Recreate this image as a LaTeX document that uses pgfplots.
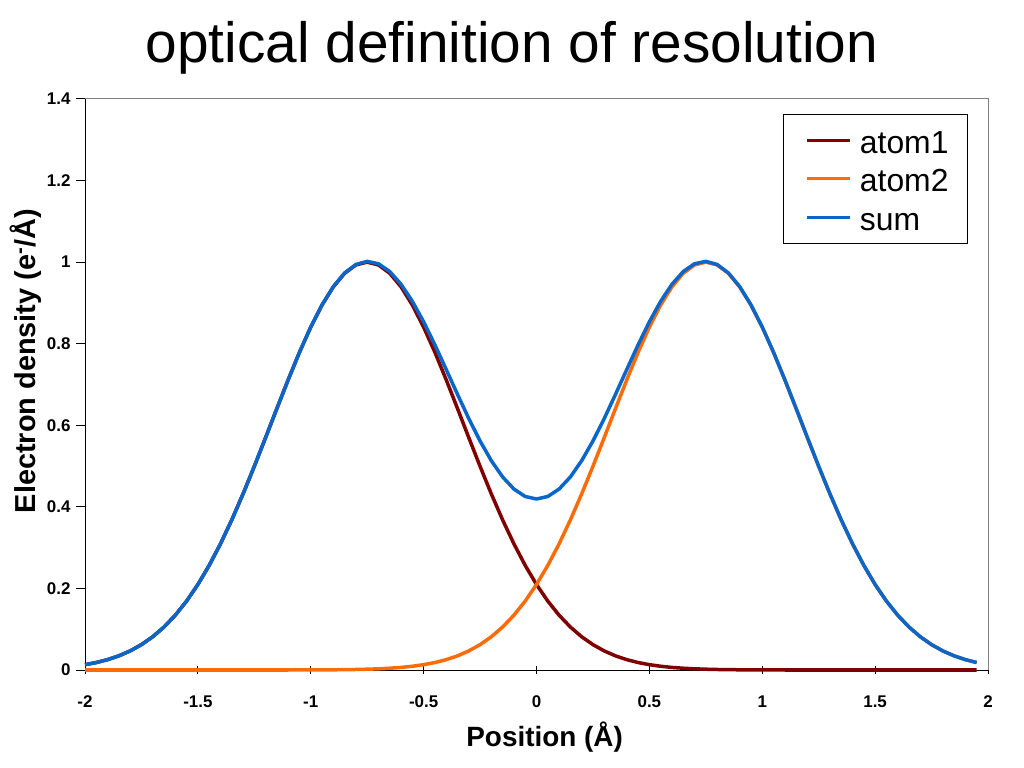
\documentclass[border=0pt]{standalone}
\usepackage{fontspec}
\setmainfont{Liberation Sans}
\usepackage{pgfplots}
\pgfplotsset{compat=1.18}
\usepackage{pgfplotstable}
\definecolor{atomA}{RGB}{128,0,0}
\definecolor{atomB}{RGB}{250,108,10}
\definecolor{sumc}{RGB}{10,102,200}
\pgfplotstableread{
x a1 a2 s
-2.00 0.01304 0 0.01304
-1.95 0.01832 0 0.01832
-1.90 0.02537 0 0.02537
-1.85 0.03469 0 0.03469
-1.80 0.04677 0 0.04677
-1.75 0.06218 0 0.06218
-1.70 0.08151 0 0.08151
-1.65 0.10540 0 0.10540
-1.60 0.13441 0 0.13441
-1.55 0.16901 0 0.16901
-1.50 0.20961 0 0.20961
-1.45 0.25638 0 0.25638
-1.40 0.30924 0 0.30924
-1.35 0.36788 0 0.36788
-1.30 0.43159 0 0.43159
-1.25 0.49935 0 0.49935
-1.20 0.56978 0 0.56978
-1.15 0.64118 0 0.64118
-1.10 0.71155 0 0.71155
-1.05 0.77880 0.00012 0.77892
-1.00 0.84064 0.00020 0.84084
-0.95 0.89484 0.00033 0.89517
-0.90 0.93941 0.00052 0.93993
-0.85 0.97260 0.00082 0.97342
-0.80 0.99308 0.00126 0.99434
-0.75 1.00000 0.00193 1.00193
-0.70 0.99308 0.00291 0.99599
-0.65 0.97260 0.00432 0.97692
-0.60 0.93941 0.00633 0.94574
-0.55 0.89484 0.00915 0.90399
-0.50 0.84064 0.01304 0.85368
-0.45 0.77880 0.01832 0.79712
-0.40 0.71155 0.02537 0.73692
-0.35 0.64118 0.03469 0.67587
-0.30 0.56978 0.04677 0.61655
-0.25 0.49935 0.06218 0.56153
-0.20 0.43159 0.08151 0.51310
-0.15 0.36788 0.10540 0.47328
-0.10 0.30924 0.13441 0.44365
-0.05 0.25638 0.16901 0.42539
0.00 0.20961 0.20961 0.41922
0.05 0.16901 0.25638 0.42539
0.10 0.13441 0.30924 0.44365
0.15 0.10540 0.36788 0.47328
0.20 0.08151 0.43159 0.51310
0.25 0.06218 0.49935 0.56153
0.30 0.04677 0.56978 0.61655
0.35 0.03469 0.64118 0.67587
0.40 0.02537 0.71155 0.73692
0.45 0.01832 0.77880 0.79712
0.50 0.01304 0.84064 0.85368
0.55 0.00915 0.89484 0.90399
0.60 0.00633 0.93941 0.94574
0.65 0.00432 0.97260 0.97692
0.70 0.00291 0.99308 0.99599
0.75 0.00193 1.00000 1.00193
0.80 0.00126 0.99308 0.99434
0.85 0.00082 0.97260 0.97342
0.90 0.00052 0.93941 0.93993
0.95 0.00033 0.89484 0.89517
1.00 0.00020 0.84064 0.84084
1.05 0.00012 0.77880 0.77892
1.10 0 0.71155 0.71155
1.15 0 0.64118 0.64118
1.20 0 0.56978 0.56978
1.25 0 0.49935 0.49935
1.30 0 0.43159 0.43159
1.35 0 0.36788 0.36788
1.40 0 0.30924 0.30924
1.45 0 0.25638 0.25638
1.50 0 0.20961 0.20961
1.55 0 0.16901 0.16901
1.60 0 0.13441 0.13441
1.65 0 0.10540 0.10540
1.70 0 0.08151 0.08151
1.75 0 0.06218 0.06218
1.80 0 0.04677 0.04677
1.85 0 0.03469 0.03469
1.90 0 0.02537 0.02537
1.95 0 0.01832 0.01832
}\datatable
\begin{document}
\begin{tikzpicture}
\path[use as bounding box] (0,0) rectangle (1024bp,768bp);
\node[anchor=base, font=\fontsize{57}{60}\selectfont] at (512bp,705bp) {optical definition of resolution};
\begin{axis}[
  at={(85bp,98bp)}, anchor=south west,
  scale only axis, width=903bp, height=571bp,
  xmin=-2, xmax=2, ymin=0, ymax=1.4,
  xtick={-2,-1.5,...,2}, ytick={0,0.2,...,1.4},
  axis x line*=bottom, axis y line*=left,
  axis line style={black, line width=1pt},
  xtick align=center, ytick align=outside,
  major tick length=9bp,
  tick style={black, line width=1pt},
  /pgf/number format/assume math mode=true,
  xticklabel style={font=\bfseries\fontsize{17}{19}\selectfont, yshift=-18bp},
  yticklabel style={font=\bfseries\fontsize{17}{19}\selectfont, xshift=-2bp},
  xlabel={Position (Å)},
  ylabel={Electron density (e\textsuperscript{-}/Å)},
  xlabel style={font=\bfseries\fontsize{28}{30}\selectfont, at={(axis description cs:0.509,-0.117)}, anchor=center},
  ylabel style={font=\bfseries\fontsize{29}{31}\selectfont, at={(axis description cs:-0.066,0.541)}, anchor=center, rotate=0},
  clip=false,
  legend cell align=left,
  legend style={at={(0.773,0.974)}, anchor=north west, draw=black, line width=0.8pt,
    font=\fontsize{32}{36}\selectfont, inner xsep=19bp, inner ysep=10bp, row sep=6.5bp,
    nodes={inner sep=0pt, text height=29bp, text depth=3bp}},
  legend image code/.code={\draw[#1, line width=3bp] (3bp,0bp) -- (46bp,0bp); \path (0bp,0bp) (54bp,0bp);},
]
\draw[gray, line width=1pt] (rel axis cs:0,1) -- (rel axis cs:1,1) -- (rel axis cs:1,0);
\addplot[atomA, line width=3.5bp, line join=round] table[x=x,y=a1] {\datatable};
\addlegendentry{atom1}
\addplot[atomB, line width=3.5bp, line join=round] table[x=x,y=a2] {\datatable};
\addlegendentry{atom2}
\addplot[sumc, line width=3.5bp, line join=round] table[x=x,y=s] {\datatable};
\addlegendentry{sum}
\end{axis}
\end{tikzpicture}
\end{document}
